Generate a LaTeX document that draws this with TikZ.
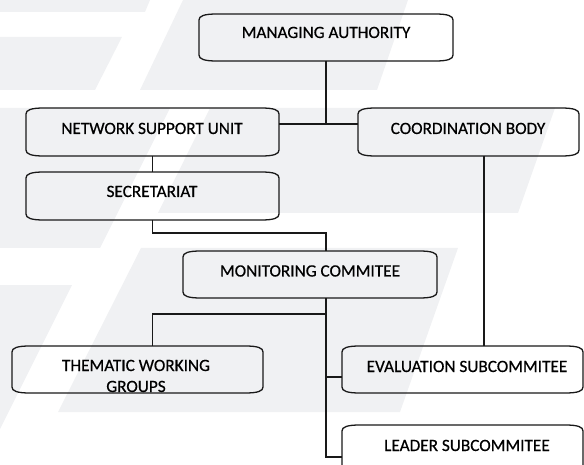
\documentclass[tikz,border=0pt]{standalone}
\usepackage{fontspec}
\setmainfont{Carlito}
\newfontfamily\boxfont[FakeBold=0.6]{Carlito}
\usetikzlibrary{calc}
\definecolor{wm}{RGB}{240,241,243}
\definecolor{ink}{RGB}{25,25,25}
\begin{document}
\begin{tikzpicture}[x=1bp,y=-1bp,
  boxnode/.style={draw=none,inner sep=0pt,outer sep=0pt,rectangle},
  boxline/.style={draw=ink,line width=1.3bp},
  lbl/.style={anchor=base,inner sep=0pt,font=\boxfont\fontsize{17.3}{21}\selectfont,text=black},
  conn/.style={draw=ink,line width=1.3bp}]
\useasboundingbox (0,0) rectangle (584,465);
\begin{scope}
\clip (0,0) rectangle (584,465);
% watermark
\fill[wm] (0,0) -- (150,0) -- (145,12) -- (0,12) -- cycle;
\fill[wm] (183,0) -- (408,0) -- (377,90) -- (140,90) -- cycle;
\fill[wm] (0,37) -- (122,37) -- (95,90) -- (0,90) -- cycle;
\fill[wm] (0,108) -- (170,108) -- (100,248) -- (0,248) -- cycle;
\fill[wm] (210,108) -- (555,108) -- (518,213) -- (158,213) -- cycle;
\fill[wm] (141,248) -- (458,248) -- (400,412) -- (58,412) -- cycle;
\fill[wm] (0,285) -- (72,285) -- (0,429) -- cycle;

% boxes
\node[boxnode,minimum width=254bp,minimum height=47bp] (ma) at (326,37.5) {};
\node[boxnode,minimum width=253bp,minimum height=48bp] (nsu) at (152.5,132) {};
\node[boxnode,minimum width=221bp,minimum height=48bp] (cb) at (468.5,132) {};
\node[boxnode,minimum width=253bp,minimum height=48bp] (sec) at (152.5,196) {};
\node[boxnode,minimum width=254bp,minimum height=47bp] (mc) at (310,274.5) {};
\node[boxnode,minimum width=251bp,minimum height=47bp] (twg) at (137.5,369.5) {};
\node[boxnode,minimum width=241bp,minimum height=47bp] (eval) at (462.5,369.5) {};
\node[boxnode,minimum width=241bp,minimum height=47bp] (leader) at (462.5,448.5) {};

\foreach \bx in {ma,nsu,cb,sec,mc,twg,eval,leader}{
  \draw[boxline] let \p1=(\bx.south west), \p2=(\bx.north east) in
    (\x1,\y2-6pt) .. controls (\x1,\y2-2pt) and (\x1+5pt,\y2) .. (\x1+18pt,\y2)
    -- (\x2-18pt,\y2) .. controls (\x2-5pt,\y2) and (\x2,\y2-2pt) .. (\x2,\y2-6pt)
    -- (\x2,\y1+6pt) .. controls (\x2,\y1+2pt) and (\x2-5pt,\y1) .. (\x2-18pt,\y1)
    -- (\x1+18pt,\y1) .. controls (\x1+5pt,\y1) and (\x1,\y1+2pt) .. (\x1,\y1+6pt)
    -- cycle;
}

% labels
\node[lbl] (ma-t) at (326,38) {MANAGING AUTHORITY};
\node[lbl] (nsu-t) at (152,134) {NETWORK SUPPORT UNIT};
\node[lbl] (cb-t) at (468,134) {COORDINATION BODY};
\node[lbl] (sec-t) at (152,197) {SECRETARIAT};
\node[lbl] (mc-t) at (310,276.5) {MONITORING COMMITEE};
\node[lbl] (twg-t1) at (136,371) {THEMATIC WORKING};
\node[lbl] (twg-t2) at (136,392) {GROUPS};
\node[lbl] (eval-t) at (467,372) {EVALUATION SUBCOMMITEE};
\node[lbl] (leader-t) at (467,451) {LEADER SUBCOMMITEE};

% connectors
\coordinate (j1) at (326,124);
\coordinate (j2) at (326,233);
\coordinate (b1) at (326,314);
\coordinate (b2) at (326,377);
\coordinate (b3) at (326,457);
\coordinate (c1) at (484,156);
\draw[conn] (ma.south -| j1) -- (j1);
\draw[conn] (nsu.east |- j1) -- (cb.west |- j1);
\draw[conn] (nsu.south) -- (sec.north);
\draw[conn] (sec.south) |- (j2) -- (mc.north -| j2);
\draw[conn] (mc.south -| b1) -- (b3) -- (leader.west |- b3);
\draw[conn] (b1) -| (nsu.south |- twg.north);
\draw[conn] (b2) -- (eval.west |- b2);
\draw[conn] (c1) -- (c1 |- eval.north);
\end{scope}
\end{tikzpicture}
\end{document}
